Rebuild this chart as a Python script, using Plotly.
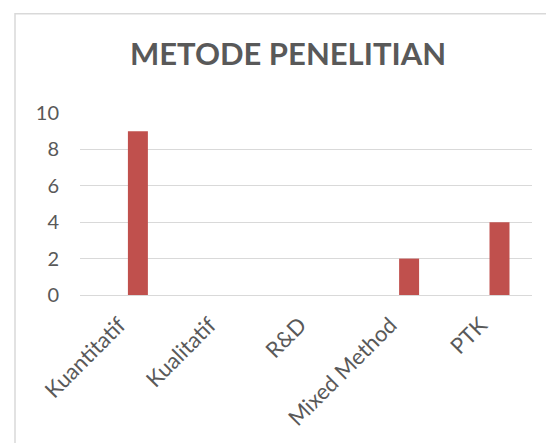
import plotly.graph_objects as go

categories = ["Kuantitatif", "Kualitatif", "R&D", "Mixed Method", "PTK"]
values = [9, 0, 0, 2, 4]
y_ticks = [0, 2, 4, 6, 8, 10]
title_text = "METODE PENELITIAN"

# page body has an 8px margin, so positions are shifted by -8
W, H = 554, 443
L, R, T, B = 72, 30, 105, 155.5
pw, ph = W - L - R, H - T - B
FONT = "Lato, Carlito, sans-serif"

fig = go.Figure()
fig.add_trace(go.Bar(
    x=categories, y=values,
    marker=dict(color="#C0504D", line=dict(width=0)),
    width=0.221, offset=0.03,
    hoverinfo="x+y",
))

fig.update_layout(
    width=W, height=H,
    margin=dict(l=L, r=R, t=T, b=B),
    paper_bgcolor="white", plot_bgcolor="white",
    showlegend=False,
    font=dict(family=FONT, color="#595959", size=18),
    title=dict(text="<b>" + title_text + "</b>", x=(280 - L) / pw, xref="paper", xanchor="center",
               y=(H - 46) / H, yanchor="middle",
               font=dict(size=31, color="#595959", family=FONT)),
    xaxis=dict(
        type="category", tickangle=-45, showgrid=False, showline=False, zeroline=False,
        ticks="", tickfont=dict(size=22, color="#595959"), range=[-0.5, 4.5],
        ticklabelstandoff=12, ticklabelshift=-6,
    ),
    yaxis=dict(
        range=[0, 10], tickvals=y_ticks, showgrid=True, gridcolor="#D9D9D9", gridwidth=1,
        zeroline=True, zerolinecolor="#D9D9D9", zerolinewidth=1, showline=False,
        ticks="", tickfont=dict(size=20, color="#595959"), ticklabelstandoff=20,
    ),
    shapes=[dict(
        type="rect", xref="paper", yref="paper",
        x0=(7 - L) / pw, x1=(W + 20 - L) / pw,
        y0=-(H + 20 - (H - B)) / ph, y1=(H - B - 5.5) / ph,
        line=dict(color="#D9D9D9", width=1.5), fillcolor="rgba(0,0,0,0)", layer="below",
    )],
)

fig.write_html("out.html")
